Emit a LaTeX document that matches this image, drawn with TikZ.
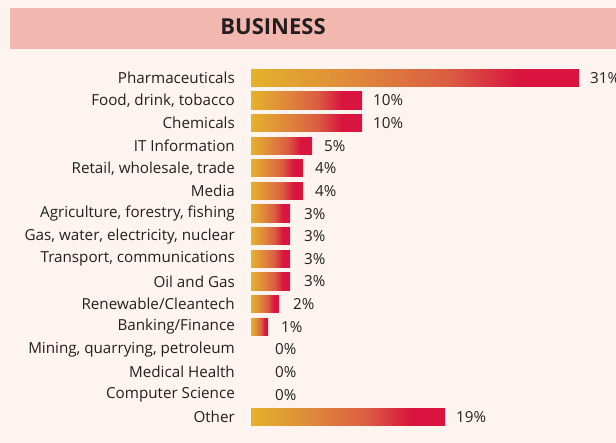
\documentclass[tikz,border=0pt]{standalone}
\usepackage{fontspec}
\setmainfont{Open Sans}
\definecolor{bg}{HTML}{FDF4F0}
\definecolor{band}{HTML}{F2B7AF}
\definecolor{ink}{HTML}{231F20}
\definecolor{gA}{HTML}{E4B22A}
\definecolor{gB}{HTML}{DF8A3B}
\definecolor{gC}{HTML}{DB5D42}
\definecolor{gD}{HTML}{D8143F}
\pgfdeclarehorizontalshading{bargrad}{100bp}{color(0bp)=(gA); color(25bp)=(gA); color(40bp)=(gB); color(55bp)=(gC); color(66bp)=(gD); color(75bp)=(gD); color(100bp)=(gD)}
\tikzset{
  cat/.style={anchor=east, inner sep=0pt, text=ink, font=\fontsize{15.2}{17}\selectfont},
  pct/.style={anchor=west, inner sep=0pt, text=ink, font=\fontsize{15.2}{17}\selectfont},
  barbox/.style={shading=bargrad, draw=none},
}
\begin{document}
\begin{tikzpicture}[x=1pt,y=-1pt]
\useasboundingbox (0,0) rectangle (616,443);
\fill[bg] (0,0) rectangle (616,443);
\fill[band] (10,8) rectangle (616,49);
\node[inner sep=0pt, text=ink, font=\fontsize{22}{25}\selectfont\bfseries] (title) at (273,27) {BUSINESS};
\foreach \i/\lab/\len/\tx/\p in {
 0/{Pharmaceuticals}/328/590/{31\%},
 1/{Food, drink, tobacco}/111/373/{10\%},
 2/{Chemicals}/111/373/{10\%},
 3/{IT Information}/61/324/{5\%},
 4/{Retail, wholesale, trade}/52/315/{4\%},
 5/{Media}/52/315/{4\%},
 6/{Agriculture, forestry, fishing}/39/304/{3\%},
 7/{Gas, water, electricity, nuclear}/39/304/{3\%},
 8/{Transport, communications}/39/304/{3\%},
 9/{Oil and Gas}/39/304/{3\%},
 10/{Renewable/Cleantech}/28/293/{2\%},
 11/{Banking/Finance}/17/281/{1\%},
 12/{Mining, quarrying, petroleum}/0/275/{0\%},
 13/{Medical Health}/0/275/{0\%},
 14/{Computer Science}/0/275/{0\%},
 15/{Other}/194/456/{19\%}}{
  \pgfmathsetmacro{\yc}{77.8+22.63*\i}
  \node[cat] (c\i) at (235,\yc) {\lab};
  \ifnum \len>0
    \path[barbox] (251,\yc-8.6) rectangle (251+\len,\yc+8.6);
  \fi
  \node[pct] (p\i) at (\tx,\yc) {\p};
}
\end{tikzpicture}
\end{document}
